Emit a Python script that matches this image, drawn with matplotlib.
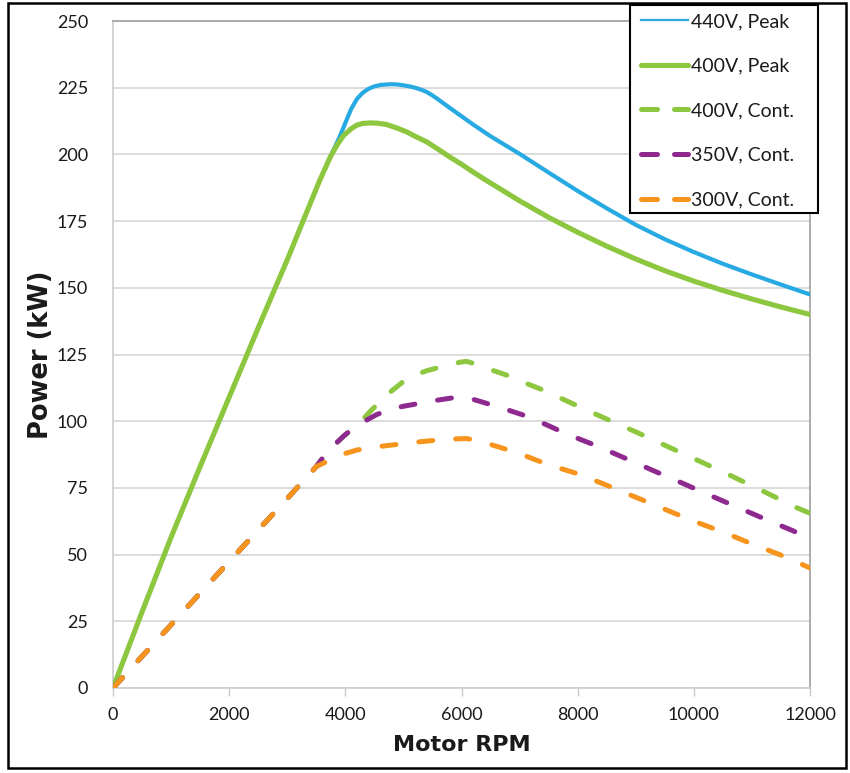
import matplotlib
matplotlib.use("Agg")
import matplotlib.pyplot as plt
from matplotlib.lines import Line2D
from matplotlib.patches import Rectangle

plt.rcParams['font.family'] = ['Lato', 'DejaVu Sans']

# ---- data ----
rpm_440p = [3750, 3800, 3900, 4000, 4100, 4200, 4300, 4400, 4500, 4600, 4700, 4800, 4900,
            5000, 5100, 5200, 5300, 5400, 5500, 5600, 5800, 6000, 6200, 6500, 7000, 7500,
            8000, 8500, 9000, 9500, 10000, 10500, 11000, 11500, 12000]
kw_440p = [199.5, 201.8, 206.5, 211.8, 217.0, 220.8, 223.1, 224.6, 225.5, 226.0, 226.2,
           226.3, 226.2, 225.9, 225.5, 225.0, 224.3, 223.4, 222.1, 220.6, 217.4, 214.3,
           211.2, 206.8, 200.2, 193.2, 186.3, 179.8, 173.6, 168.2, 163.4, 159.0, 155.0,
           151.2, 147.5]

rpm_400p = [0, 500, 1000, 1500, 2000, 2500, 3000, 3300, 3560, 3740, 3850, 3970, 4100, 4200,
            4300, 4430, 4550, 4710, 4900, 5060, 5200, 5400, 5600, 5800, 6000, 6200, 6400,
            6700, 7000, 7500, 8000, 8500, 9000, 9500, 10000, 10500, 11000, 11500, 12000]
kw_400p = [0, 28.5, 56.5, 83, 109, 135, 160.5, 176.5, 190.3, 199.0, 203.3, 207.1, 209.6,
           211.0, 211.6, 211.8, 211.7, 211.2, 209.8, 208.4, 206.8, 204.7, 201.9, 199.0,
           196.3, 193.4, 190.6, 186.6, 182.6, 176.4, 170.8, 165.6, 160.8, 156.4, 152.5,
           149.0, 145.8, 142.8, 140.0]

rpm_400c = [0, 1000, 2000, 3000, 3500, 3700, 3970, 4140, 4300, 4430, 4600, 4800, 5000, 5200,
            5400, 5570, 5800, 6000, 6090, 6200, 6320, 6600, 6840, 7100, 7470, 7800, 8090,
            8500, 9000, 9500, 10000, 10500, 11000, 11500, 11770, 12000]
kw_400c = [0, 23.7, 47.4, 71, 83, 88.8, 94.4, 97.5, 100.6, 103.7, 107.4, 111.4, 114.9,
           117.3, 118.9, 119.9, 121.3, 122.2, 122.4, 121.7, 120.5, 118.6, 116.8, 114.3,
           111.1, 107.7, 104.8, 100.8, 96.0, 91.0, 86.0, 81.0, 75.8, 70.5, 67.6, 65.5]

rpm_350c = [0, 1000, 2000, 3000, 3500, 3700, 3970, 4140, 4300, 4540, 4800, 5000, 5230, 5500,
            5860, 6030, 6200, 6490, 6800, 7120, 7500, 7800, 8300, 8800, 9300, 9800, 10300,
            10800, 11300, 11700, 12000]
kw_350c = [0, 23.7, 47.4, 71, 83, 88.8, 94.4, 97.5, 99.6, 102.5, 104.6, 105.6, 106.5,
           107.6, 108.8, 108.8, 108.2, 106.3, 104.2, 101.9, 98.3, 95.3, 91.0, 86.3, 81.5,
           76.8, 72.0, 67.3, 62.6, 59.0, 56.0]

rpm_300c = [0, 1000, 2000, 3000, 3500, 3740, 3950, 4200, 4500, 4890, 5200, 5570, 5800, 6090,
            6320, 6600, 6950, 7300, 7600, 8000, 8500, 9000, 9500, 10000, 10500, 11000,
            11500, 12000]
kw_300c = [0, 23.7, 47.4, 71, 83, 85.5, 87.6, 89.2, 90.3, 91.3, 92.1, 92.9, 93.3, 93.5,
           92.5, 90.6, 88.3, 85.3, 83.0, 80.3, 76.0, 71.5, 67.0, 62.5, 58.5, 54.0,
           49.8, 45.0]

labels = ["440V, Peak", "400V, Peak", "400V, Cont.", "350V, Cont.", "300V, Cont."]
x_ticks = [0, 2000, 4000, 6000, 8000, 10000, 12000]
y_ticks = [0, 25, 50, 75, 100, 125, 150, 175, 200, 225, 250]

c_blue = '#27a9e1'
c_green = '#8dc63f'
c_purple = '#8e2a8f'
c_orange = '#f7941d'

W, H = 850, 773
fig = plt.figure(figsize=(W / 100, H / 100), dpi=100)
ax = fig.add_axes([113 / W, 1 - 688 / H, (810 - 113) / W, (688 - 21) / H])

dash = (0, (2.8, 4.6))
ax.plot(rpm_440p, kw_440p, color=c_blue, lw=3.0, solid_capstyle='round',
        solid_joinstyle='round', zorder=3)
ax.plot(rpm_400p, kw_400p, color=c_green, lw=3.7, solid_capstyle='round',
        solid_joinstyle='round', zorder=4)
ax.plot(rpm_400c, kw_400c, color=c_green, lw=3.6, ls=dash, dash_capstyle='round', zorder=5)
ax.plot(rpm_350c, kw_350c, color=c_purple, lw=3.6, ls=dash, dash_capstyle='round', zorder=6)
ax.plot(rpm_300c, kw_300c, color=c_orange, lw=3.6, ls=dash, dash_capstyle='round', zorder=7)

ax.set_xlim(0, 12000)
ax.set_ylim(0, 250)
ax.set_xticks(x_ticks)
ax.set_yticks(y_ticks)
ax.set_xticklabels([str(t) for t in x_ticks])
ax.set_yticklabels([str(t) for t in y_ticks])
ax.grid(axis='y', color='#d9d9d9', lw=1.3, zorder=1)
ax.set_axisbelow(True)

for s in ['left', 'bottom']:
    ax.spines[s].set_color('#d0d0d0')
    ax.spines[s].set_linewidth(1.3)
for s in ['top', 'right']:
    ax.spines[s].set_color('#a6a6a6')
    ax.spines[s].set_linewidth(1.3)

ax.tick_params(axis='x', length=6, width=1, color='#c8c8c8', pad=8,
               labelsize=13, labelcolor='#1a1a1a')
ax.tick_params(axis='y', length=0, pad=18, labelsize=13, labelcolor='#1a1a1a')

ax.set_xlabel("Motor RPM", fontsize=16, fontweight='bold', color='#1a1a1a', labelpad=8,
              family='DejaVu Sans')
ax.set_ylabel("Power (kW)", fontsize=18.5, fontweight='bold', color='#1a1a1a', labelpad=2,
              family='DejaVu Sans')

# legend frame drawn explicitly to match the reference box
fig.patches.append(Rectangle((630 / W, 1 - 213 / H), (818 - 630) / W, (213 - 5) / H,
                             transform=fig.transFigure, facecolor='white',
                             edgecolor='black', lw=1.5, zorder=4))

hdash = (0, (3.2, 3.4))
handles = [
    Line2D([], [], color=c_blue, lw=1.6),
    Line2D([], [], color=c_green, lw=3.7, solid_capstyle='round'),
    Line2D([], [], color=c_green, lw=3.6, ls=hdash, dash_capstyle='round'),
    Line2D([], [], color=c_purple, lw=3.6, ls=hdash, dash_capstyle='round'),
    Line2D([], [], color=c_orange, lw=3.6, ls=hdash, dash_capstyle='round'),
]
leg = fig.legend(handles, labels, loc='upper left', bbox_to_anchor=(641 / W, 1 - 13 / H),
                 fontsize=14, frameon=False, handlelength=2.42, handletextpad=0.15,
                 labelspacing=1.42, borderpad=0, borderaxespad=0)
leg.set_zorder(6)
for t in leg.get_texts():
    t.set_color('#1a1a1a')

fig.patches.append(Rectangle((8 / W, 1 - 768 / H), (846 - 8) / W, (768 - 3) / H,
                             transform=fig.transFigure, fill=False, edgecolor='black',
                             lw=1.8, zorder=10))

fig.savefig("out.png", dpi=100)
